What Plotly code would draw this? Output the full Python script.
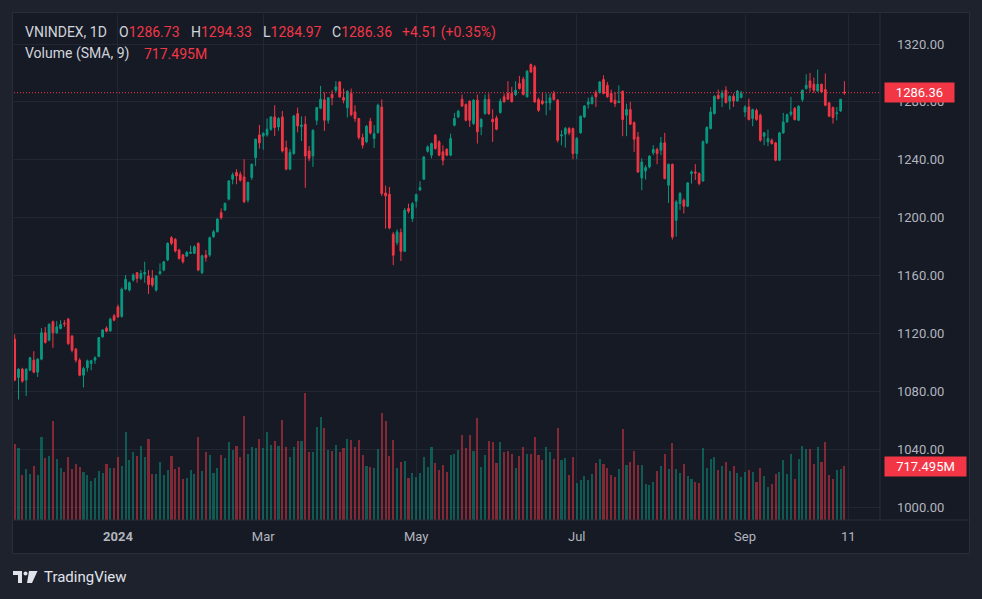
import plotly.graph_objects as go

# VNINDEX daily sessions, late Nov 2023 .. Oct 2024 (one entry per session)
open_vals = [
    1116.1, 1089.6, 1095.4, 1087.8, 1094.7, 1101.6, 1093.3, 1102.3, 1120.5, 1115.4,
    1128.1, 1120.5, 1123.5, 1127.1, 1129.9, 1118.2, 1109.2, 1101.6, 1091.2, 1096.3,
    1099.3, 1101.6, 1104.2, 1117.7, 1123.7, 1121.8, 1132.2, 1138.4, 1131.8, 1150.7,
    1150.0, 1156.9, 1162.0, 1158.1, 1161.1, 1159.7, 1158.3, 1150.0, 1161.5, 1163.8,
    1170.8, 1186.2, 1185.0, 1177.7, 1174.2, 1173.5, 1175.4, 1175.4, 1182.3, 1162.0,
    1174.2, 1174.2, 1186.9, 1190.3, 1203.5, 1205.3, 1212.8, 1226.6, 1231.2, 1230.0,
    1228.2, 1212.1, 1227.7, 1241.5, 1257.2, 1256.3, 1257.2, 1261.1, 1269.6, 1262.7,
    1269.6, 1248.4, 1233.5, 1244.3, 1271.9, 1263.0, 1264.6, 1246.1, 1242.7, 1267.3,
    1275.6, 1281.4, 1267.3, 1285.3, 1288.1, 1293.8, 1283.0, 1275.9, 1285.8, 1273.1,
    1268.5, 1255.4, 1252.4, 1266.6, 1254.7, 1258.8, 1276.5, 1217.1, 1216.2, 1188.6,
    1182.8, 1189.7, 1176.8, 1206.3, 1199.4, 1211.4, 1219.2, 1226.6, 1245.9, 1243.2,
    1257.0, 1252.4, 1245.5, 1247.3, 1243.2, 1263.9, 1269.6, 1281.8, 1278.2, 1280.5,
    1265.0, 1281.2, 1262.7, 1271.9, 1281.8, 1268.0, 1268.9, 1272.6, 1283.5, 1285.8,
    1285.8, 1285.0, 1292.7, 1295.7, 1283.5, 1305.8, 1304.2, 1281.6, 1280.7, 1279.5,
    1279.3, 1285.8, 1281.2, 1256.5, 1257.7, 1261.6, 1261.6, 1244.3, 1258.6, 1269.6,
    1278.4, 1278.8, 1286.4, 1286.4, 1295.4, 1291.5, 1285.8, 1281.2, 1279.5, 1287.4,
    1270.8, 1274.7, 1265.7, 1255.8, 1227.5, 1232.3, 1235.1, 1244.8, 1247.1, 1246.6,
    1251.7, 1222.4, 1236.9, 1198.2, 1209.8, 1212.1, 1207.9, 1230.5, 1231.6, 1230.5,
    1225.4, 1251.7, 1261.6, 1271.9, 1284.6, 1283.0, 1288.0, 1280.5, 1283.9, 1280.7,
    1283.0, 1273.1, 1276.5, 1268.5, 1274.2, 1270.8, 1256.3, 1252.4, 1253.5, 1251.7,
    1239.7, 1258.6, 1266.2, 1271.5, 1275.4, 1267.3, 1281.6, 1289.2, 1294.5, 1292.2,
    1287.6, 1292.2, 1288.5, 1279.3, 1276.1, 1271.9, 1273.8, 1286.73,
]
high_vals = [
    1119.3, 1095.9, 1096.3, 1095.9, 1103.9, 1107.8, 1102.8, 1123.7, 1124.4, 1126.9,
    1129.0, 1128.7, 1129.2, 1129.2, 1130.8, 1119.0, 1110.0, 1103.0, 1097.0, 1102.0,
    1101.8, 1104.3, 1117.5, 1122.9, 1125.0, 1131.0, 1133.5, 1140.0, 1151.8, 1160.4,
    1156.0, 1161.5, 1162.5, 1163.8, 1169.6, 1163.8, 1163.8, 1160.4, 1168.4, 1170.0,
    1183.0, 1187.3, 1186.0, 1178.5, 1175.0, 1177.0, 1180.7, 1181.0, 1183.0, 1174.5,
    1177.7, 1187.0, 1191.5, 1199.5, 1206.4, 1210.5, 1226.0, 1231.2, 1233.5, 1231.9,
    1240.4, 1225.0, 1237.5, 1254.7, 1264.1, 1258.9, 1268.5, 1270.3, 1277.7, 1269.5,
    1273.8, 1253.3, 1247.3, 1271.0, 1276.1, 1270.0, 1270.1, 1249.5, 1261.0, 1276.5,
    1291.1, 1286.5, 1283.3, 1288.1, 1294.3, 1294.3, 1289.2, 1288.0, 1289.2, 1277.7,
    1269.0, 1258.1, 1264.0, 1268.9, 1263.9, 1278.8, 1281.8, 1222.2, 1221.3, 1190.2,
    1191.9, 1192.5, 1206.8, 1209.7, 1210.8, 1216.7, 1225.2, 1242.5, 1250.0, 1251.8,
    1257.8, 1253.5, 1250.0, 1248.0, 1258.1, 1272.4, 1274.5, 1285.1, 1279.0, 1281.0,
    1281.9, 1285.1, 1268.7, 1285.1, 1285.8, 1274.9, 1270.5, 1282.3, 1285.8, 1294.3,
    1290.4, 1294.3, 1298.0, 1297.3, 1302.0, 1306.5, 1305.5, 1283.0, 1286.4, 1285.8,
    1285.8, 1287.6, 1282.0, 1260.4, 1262.7, 1262.7, 1262.3, 1255.8, 1270.6, 1277.7,
    1283.0, 1284.6, 1288.1, 1294.5, 1298.4, 1293.8, 1288.5, 1286.9, 1291.5, 1287.8,
    1278.8, 1280.0, 1266.5, 1259.3, 1241.0, 1236.2, 1243.2, 1250.1, 1248.4, 1255.8,
    1258.6, 1237.4, 1237.4, 1212.1, 1217.8, 1213.2, 1224.6, 1232.7, 1237.0, 1231.4,
    1253.5, 1263.2, 1276.5, 1284.6, 1288.5, 1288.1, 1290.8, 1284.5, 1285.8, 1288.1,
    1287.6, 1277.7, 1282.3, 1275.3, 1275.4, 1271.9, 1259.3, 1260.9, 1254.7, 1252.4,
    1259.3, 1272.4, 1271.9, 1283.5, 1276.5, 1277.7, 1288.5, 1299.1, 1300.0, 1296.8,
    1302.3, 1292.7, 1299.6, 1280.0, 1276.8, 1276.5, 1282.0, 1294.33,
]
low_vals = [
    1087.0, 1074.4, 1086.0, 1076.9, 1094.0, 1092.6, 1090.0, 1101.5, 1113.0, 1114.6,
    1110.1, 1119.8, 1122.8, 1124.6, 1112.0, 1107.0, 1100.0, 1090.5, 1082.7, 1093.6,
    1094.6, 1099.0, 1103.6, 1117.0, 1120.8, 1121.2, 1128.5, 1130.8, 1130.9, 1150.0,
    1149.0, 1155.8, 1155.1, 1156.9, 1155.1, 1147.3, 1152.0, 1148.9, 1160.4, 1163.0,
    1170.0, 1181.0, 1176.0, 1171.0, 1168.4, 1173.0, 1175.0, 1175.0, 1163.0, 1161.0,
    1169.6, 1173.0, 1186.0, 1189.8, 1198.8, 1204.6, 1212.0, 1223.1, 1223.1, 1225.0,
    1210.0, 1210.5, 1226.0, 1235.8, 1247.7, 1247.0, 1256.0, 1260.0, 1256.5, 1260.0,
    1245.0, 1232.8, 1232.8, 1243.5, 1259.0, 1253.0, 1220.7, 1239.0, 1235.1, 1264.0,
    1275.0, 1260.0, 1265.0, 1277.7, 1286.4, 1282.8, 1279.0, 1269.2, 1270.0, 1266.2,
    1254.0, 1247.8, 1251.5, 1257.5, 1248.2, 1258.0, 1215.0, 1192.5, 1192.0, 1167.2,
    1181.0, 1170.1, 1176.3, 1203.0, 1197.1, 1207.0, 1218.5, 1226.0, 1245.0, 1241.0,
    1247.0, 1242.5, 1236.2, 1242.5, 1242.5, 1263.0, 1268.8, 1276.5, 1266.5, 1262.7,
    1264.0, 1251.2, 1257.0, 1271.2, 1271.0, 1252.4, 1260.4, 1272.0, 1279.4, 1281.2,
    1279.6, 1284.0, 1288.5, 1284.4, 1283.0, 1300.0, 1279.5, 1273.1, 1278.0, 1270.8,
    1274.2, 1281.0, 1252.0, 1250.0, 1248.5, 1257.0, 1240.4, 1240.4, 1258.0, 1269.0,
    1275.4, 1278.2, 1276.5, 1285.8, 1285.2, 1282.9, 1279.4, 1276.5, 1279.3, 1256.3,
    1256.3, 1264.0, 1245.5, 1231.0, 1219.0, 1226.3, 1234.0, 1243.2, 1236.9, 1243.2,
    1226.5, 1210.2, 1184.9, 1187.0, 1205.2, 1202.9, 1207.3, 1223.6, 1226.0, 1222.4,
    1224.8, 1251.0, 1261.0, 1271.3, 1281.6, 1276.5, 1279.0, 1274.7, 1276.5, 1280.0,
    1282.5, 1269.6, 1267.2, 1263.2, 1267.0, 1252.4, 1250.1, 1249.4, 1250.5, 1239.0,
    1239.0, 1258.0, 1265.5, 1270.0, 1267.2, 1266.8, 1280.0, 1288.5, 1287.0, 1286.2,
    1287.0, 1286.2, 1277.0, 1269.5, 1265.0, 1267.3, 1273.0, 1284.97,
]
close_vals = [
    1087.8, 1095.4, 1087.1, 1095.4, 1103.2, 1093.3, 1102.3, 1120.5, 1113.8, 1126.4,
    1120.5, 1124.6, 1126.2, 1126.7, 1113.1, 1108.5, 1101.6, 1091.2, 1095.8, 1101.1,
    1101.2, 1103.2, 1117.2, 1122.5, 1121.6, 1129.9, 1129.2, 1131.5, 1150.6, 1157.4,
    1155.1, 1160.4, 1158.1, 1161.5, 1162.2, 1153.9, 1153.5, 1159.7, 1162.7, 1169.6,
    1182.3, 1182.3, 1177.0, 1171.9, 1169.6, 1176.0, 1176.1, 1180.0, 1163.8, 1173.7,
    1172.4, 1186.2, 1190.3, 1199.1, 1200.0, 1209.9, 1225.4, 1229.6, 1228.9, 1225.9,
    1211.1, 1224.3, 1236.9, 1254.2, 1251.7, 1258.4, 1261.1, 1269.6, 1262.3, 1268.5,
    1246.1, 1233.5, 1245.0, 1270.3, 1263.4, 1264.0, 1242.7, 1241.1, 1260.4, 1276.1,
    1281.8, 1267.3, 1282.8, 1282.8, 1290.4, 1283.5, 1281.2, 1287.4, 1271.2, 1268.5,
    1255.4, 1250.1, 1263.2, 1258.6, 1258.1, 1277.7, 1216.7, 1215.1, 1192.9, 1174.1,
    1190.2, 1176.8, 1205.2, 1204.5, 1209.7, 1216.0, 1220.8, 1242.0, 1248.9, 1251.2,
    1247.8, 1243.2, 1239.7, 1243.2, 1254.7, 1268.5, 1273.6, 1277.2, 1267.3, 1267.3,
    1281.2, 1259.3, 1268.0, 1281.8, 1271.9, 1266.2, 1261.1, 1280.5, 1280.1, 1281.9,
    1280.1, 1288.0, 1289.2, 1285.1, 1301.2, 1300.7, 1280.0, 1274.2, 1278.8, 1280.0,
    1282.8, 1281.6, 1253.5, 1257.2, 1261.6, 1258.6, 1244.3, 1254.7, 1270.1, 1277.2,
    1280.0, 1283.0, 1283.5, 1293.8, 1285.8, 1283.5, 1280.0, 1278.8, 1280.5, 1267.8,
    1274.7, 1264.6, 1254.2, 1231.6, 1238.5, 1234.6, 1242.5, 1247.1, 1244.3, 1251.7,
    1227.0, 1236.9, 1186.7, 1210.9, 1216.7, 1207.9, 1224.0, 1231.6, 1230.9, 1223.6,
    1252.4, 1262.3, 1273.1, 1283.9, 1282.3, 1286.2, 1279.5, 1283.9, 1280.7, 1287.6,
    1285.8, 1276.5, 1267.8, 1274.7, 1267.8, 1253.5, 1258.6, 1254.7, 1251.2, 1239.7,
    1258.6, 1266.2, 1271.2, 1273.1, 1267.8, 1277.0, 1288.1, 1291.5, 1289.9, 1288.1,
    1292.2, 1286.9, 1277.7, 1270.1, 1269.2, 1272.4, 1281.85, 1286.36,
]
# volume in millions of shares
volume_m = [
    1006, 952, 598, 678, 611, 718, 598, 1099, 824, 851,
    1316, 811, 691, 634, 837, 678, 740, 704, 634, 598,
    518, 554, 651, 625, 744, 691, 691, 837, 718, 1170,
    797, 899, 851, 983, 837, 1076, 611, 611, 771, 598,
    665, 851, 678, 704, 545, 558, 665, 611, 1103, 651,
    904, 864, 625, 691, 864, 824, 1037, 930, 983, 837,
    1382, 877, 970, 957, 1076, 957, 1170, 997, 1050, 983,
    1329, 970, 837, 970, 1050, 1050, 1688, 904, 904, 1236,
    1369, 1223, 930, 917, 997, 904, 957, 1076, 1063, 970,
    1063, 864, 718, 704, 691, 944, 1422, 1316, 851, 1063,
    691, 771, 784, 558, 625, 571, 625, 837, 704, 970,
    758, 665, 731, 638, 864, 877, 930, 1130, 957, 1130,
    917, 1356, 704, 864, 1050, 1037, 758, 1037, 904, 917,
    877, 691, 851, 970, 877, 877, 1103, 864, 797, 970,
    904, 811, 1223, 797, 824, 598, 837, 492, 532, 585,
    532, 611, 758, 811, 744, 691, 598, 571, 678, 1209,
    731, 771, 917, 731, 731, 478, 465, 505, 651, 718,
    877, 678, 1023, 678, 625, 744, 585, 545, 505, 492,
    957, 691, 811, 837, 665, 718, 771, 651, 718, 625,
    571, 638, 665, 638, 505, 691, 585, 439, 478, 611,
    638, 797, 611, 877, 545, 811, 983, 944, 944, 744,
    970, 771, 1037, 598, 545, 665, 678, 717.495,
]

# time axis labels sit on session numbers
tick_pos = [27, 65, 105, 147, 191, 218]
tick_text = ["<b>2024</b>", "Mar", "May", "Jul", "Sep", "11"]
price_ticks = [1000, 1040, 1080, 1120, 1160, 1200, 1240, 1280, 1320]

UP = "#089981"
DOWN = "#f23645"
UP_VOL = "rgba(8,153,129,0.5)"
DOWN_VOL = "rgba(242,54,69,0.5)"
TEXT = "#d1d4dc"
AXIS_TEXT = "#b2b5be"
GRID = "#232733"
BORDER = "#2a2e39"
PANEL = "#161a25"

# plot area in pixels
L, R, T, B = 14, 880, 14, 520
W, H = R - L, B - T


def px_x(p):
    return (p - L) / W


def px_y(p):
    return (B - p) / H


idx = list(range(len(close_vals)))
vol_colors = [UP_VOL if c >= o else DOWN_VOL for o, c in zip(open_vals, close_vals)]

fig = go.Figure()
fig.add_trace(go.Bar(
    x=idx, y=volume_m, marker_color=vol_colors, marker_line_width=0,
    width=0.55, yaxis="y2", hoverinfo="skip",
))
fig.add_trace(go.Candlestick(
    x=idx, open=open_vals, high=high_vals, low=low_vals, close=close_vals,
    increasing=dict(line=dict(color=UP, width=1), fillcolor=UP),
    decreasing=dict(line=dict(color=DOWN, width=1), fillcolor=DOWN),
    whiskerwidth=0, hoverinfo="skip",
))

last_close = close_vals[-1]
change = close_vals[-1] - close_vals[-2]
pct = change / close_vals[-2] * 100

shapes = [
    dict(type="rect", xref="paper", yref="paper", layer="below",
         x0=px_x(12.5), x1=px_x(969.5), y0=px_y(12.5), y1=px_y(553.5),
         fillcolor=PANEL, line=dict(color=BORDER, width=1)),
    dict(type="line", xref="paper", yref="paper", layer="above",
         x0=px_x(12.5), x1=px_x(969.5), y0=0, y1=0, line=dict(color=BORDER, width=1)),
    dict(type="line", xref="paper", yref="paper", layer="above",
         x0=1, x1=1, y0=0, y1=px_y(12.5), line=dict(color=BORDER, width=1)),
    dict(type="line", xref="paper", yref="y", x0=0, x1=1, y0=last_close, y1=last_close,
         line=dict(color=DOWN, width=1, dash="1px,2px")),
    # TradingView logo
    dict(type="path", xref="paper", yref="paper", fillcolor="#e0e3eb", line_width=0,
         path="M {} {} L {} {} L {} {} L {} {} L {} {} L {} {} Z".format(
             px_x(13), px_y(571), px_x(22), px_y(571), px_x(22), px_y(583),
             px_x(18), px_y(583), px_x(18), px_y(575), px_x(13), px_y(575))),
    dict(type="circle", xref="paper", yref="paper", fillcolor="#e0e3eb", line_width=0,
         x0=px_x(23.5), x1=px_x(27.5), y0=px_y(575.5), y1=px_y(571.5)),
    dict(type="path", xref="paper", yref="paper", fillcolor="#e0e3eb", line_width=0,
         path="M {} {} L {} {} L {} {} L {} {} Z".format(
             px_x(29), px_y(571), px_x(37.5), px_y(571), px_x(32), px_y(583),
             px_x(27), px_y(583))),
]

annotations = []
header = [
    (23, 32, "VNINDEX, 1D", TEXT),
    (117, 32, "O<span style='color:%s'>%.2f</span>" % (DOWN, open_vals[-1]), TEXT),
    (189, 32, "H<span style='color:%s'>%.2f</span>" % (DOWN, high_vals[-1]), TEXT),
    (261, 32, "L<span style='color:%s'>%.2f</span>" % (DOWN, low_vals[-1]), TEXT),
    (330, 32, "C<span style='color:%s'>%.2f</span>" % (DOWN, last_close), TEXT),
    (400, 32, "%+.2f (%+.2f%%)" % (change, pct), DOWN),
    (23, 54, "Volume (SMA, 9)", TEXT),
    (142, 54, "%.3fM" % volume_m[-1], DOWN),
]
for x, y, text, color in header:
    annotations.append(dict(
        xref="paper", yref="paper", x=px_x(x), y=px_y(y), xanchor="left", yanchor="middle",
        text=text, showarrow=False, font=dict(size=14, color=color),
    ))

annotations.append(dict(
    xref="paper", yref="y", x=px_x(884), y=last_close, xanchor="left", yanchor="middle",
    text="%.2f" % last_close, showarrow=False, bgcolor=DOWN, borderpad=0,
    width=69, height=19, font=dict(size=13, color="#ffffff"),
))
annotations.append(dict(
    xref="paper", yref="y2", x=px_x(884), y=volume_m[-1], xanchor="left", yanchor="middle",
    text="%.3fM" % volume_m[-1], showarrow=False, bgcolor=DOWN, borderpad=0,
    width=81, height=19, font=dict(size=13, color="#ffffff"),
))
annotations.append(dict(
    xref="paper", yref="paper", x=px_x(42), y=px_y(577), xanchor="left", yanchor="middle",
    text="TradingView", showarrow=False, font=dict(size=15, color="#e0e3eb"),
))

fig.update_layout(
    width=982, height=599,
    margin=dict(l=L, r=982 - R, t=T, b=599 - B),
    paper_bgcolor="#1e222d", plot_bgcolor=PANEL,
    font=dict(family="Roboto, sans-serif", color=AXIS_TEXT),
    showlegend=False, hovermode=False, boxgap=0.35, bargap=0,
    xaxis=dict(
        range=[-0.18, 226.3], tickvals=tick_pos, ticktext=tick_text,
        showgrid=True, gridcolor=GRID, gridwidth=1, zeroline=False, showline=False,
        ticks="", tickfont=dict(size=13, color=AXIS_TEXT), ticklabelstandoff=7,
        rangeslider=dict(visible=False), fixedrange=True,
    ),
    yaxis=dict(
        side="right", range=[991.16, 1340.73], tickvals=price_ticks, tickformat=".2f",
        showgrid=True, gridcolor=GRID, gridwidth=1, zeroline=False, showline=False,
        ticks="", tickfont=dict(size=13, color=AXIS_TEXT), ticklabelstandoff=16,
        fixedrange=True,
    ),
    yaxis2=dict(
        overlaying="y", side="left", range=[0, 6723], visible=False, fixedrange=True,
    ),
    shapes=shapes,
    annotations=annotations,
)

fig.write_html(
    "out.html",
    config={"displayModeBar": False},
    post_script="document.body.style.margin='0';document.body.style.background='#1e222d';",
)
